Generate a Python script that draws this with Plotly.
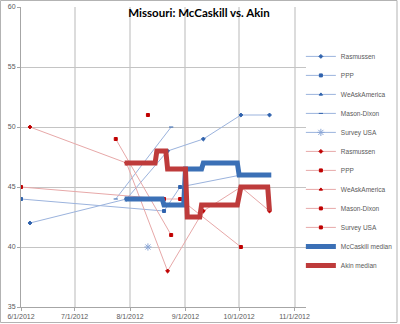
import plotly.graph_objects as go

# Poll results by pollster (McCaskill / Akin)
ras_dates = ["2012-06-06", "2012-07-30", "2012-08-22", "2012-09-11", "2012-10-02", "2012-10-18"]
ras_mccaskill = [42, 44, 48, 49, 51, 51]
ras_akin = [50, 47, 38, 43, 45, 43]

ppp_dates = ["2012-06-01", "2012-08-20", "2012-08-29", "2012-10-02"]
ppp_mccaskill = [44, 43, 45, 46]
ppp_akin = [45, 44, 44, 40]

# No WeAskAmerica results fall inside the plotted window
waa_dates = [None]
waa_mccaskill = [None]
waa_akin = [None]

md_dates = ["2012-07-24", "2012-08-24"]
md_mccaskill = [44, 50]
md_akin = [49, 41]

susa_dates = ["2012-08-11"]
susa_mccaskill = [40]
susa_akin = [51]

# Running medians
mc_med_dates = ["2012-07-29", "2012-08-19", "2012-08-20", "2012-08-31", "2012-09-01",
                "2012-09-10", "2012-09-11", "2012-09-30", "2012-10-01", "2012-10-19"]
mc_med = [44, 44, 43.5, 43.5, 46.5, 46.5, 47, 47, 46, 46]

ak_med_dates = ["2012-07-29", "2012-08-15", "2012-08-16", "2012-08-21", "2012-08-22",
                "2012-09-01", "2012-09-02", "2012-09-09", "2012-09-10", "2012-09-30",
                "2012-10-02", "2012-10-17", "2012-10-18"]
ak_med = [47, 47, 48, 48, 46.5, 46.5, 42.5, 42.5, 43.5, 43.5, 45, 45, 43]

x_ticks = ["2012-06-01", "2012-07-01", "2012-08-01", "2012-09-01", "2012-10-01", "2012-11-01"]
x_tick_text = ["6/1/2012", "7/1/2012", "8/1/2012", "9/1/2012", "10/1/2012", "11/1/2012"]
y_ticks = [35, 40, 45, 50, 55, 60]

BLUE_LINE = "#9bb3dd"
BLUE_MARK = "#2f62ad"
RED_LINE = "#e7a8a8"
RED_MARK = "#c00000"

fig = go.Figure()


def poll(name, x, y, line_color, mark_color, symbol, size=4):
    fig.add_trace(go.Scatter(
        x=x, y=y, name=name, mode="lines+markers",
        line=dict(color=line_color, width=1),
        marker=dict(symbol=symbol, size=size, color=mark_color,
                    line=dict(color=mark_color, width=1)),
    ))


poll("Rasmussen", ras_dates, ras_mccaskill, BLUE_LINE, BLUE_MARK, "diamond", 3)
poll("PPP", ppp_dates, ppp_mccaskill, BLUE_LINE, BLUE_MARK, "square", 3)
poll("WeAskAmerica", waa_dates, waa_mccaskill, BLUE_LINE, BLUE_MARK, "triangle-up", 3)
poll("Mason-Dixon", md_dates, md_mccaskill, BLUE_LINE, BLUE_MARK, "line-ew", 3)
poll("Survey USA", susa_dates, susa_mccaskill, BLUE_LINE, "#8aa6d6", "asterisk-open", 6)
poll("Rasmussen", ras_dates, ras_akin, RED_LINE, RED_MARK, "diamond", 3)
poll("PPP", ppp_dates, ppp_akin, RED_LINE, RED_MARK, "square", 3)
poll("WeAskAmerica", waa_dates, waa_akin, RED_LINE, RED_MARK, "triangle-up", 3)
poll("Mason-Dixon", md_dates, md_akin, RED_LINE, RED_MARK, "square", 3)
poll("Survey USA", susa_dates, susa_akin, RED_LINE, RED_MARK, "square", 3)

fig.add_trace(go.Scatter(x=mc_med_dates, y=mc_med, name="McCaskill median", mode="lines",
                         line=dict(color="#3b70b6", width=5)))
fig.add_trace(go.Scatter(x=ak_med_dates, y=ak_med, name="Akin median", mode="lines",
                         line=dict(color="#be3b3b", width=5)))

tick_font = dict(family="Liberation Sans", size=7, color="#595959")

fig.update_layout(
    width=400, height=324,
    margin=dict(l=21, r=94, t=7, b=17, autoexpand=False),
    paper_bgcolor="white", plot_bgcolor="white",
    showlegend=True,
    title=dict(text="<b>Missouri: McCaskill vs. Akin</b>",
               font=dict(family="Lato", size=11.5, color="black"),
               x=(199 - 21) / 285, xref="paper", xanchor="center",
               y=1 - 13 / 324, yref="container", yanchor="middle"),
    legend=dict(x=0.982, xanchor="left", y=0.487, yanchor="middle",
                font=dict(family="Liberation Sans", size=6.5, color="#595959"),
                bgcolor="rgba(0,0,0,0)", itemwidth=30, tracegroupgap=0),
    xaxis=dict(type="date", range=["2012-06-01", "2012-11-07 10:00"],
               tickvals=x_ticks, ticktext=x_tick_text, tickangle=0,
               tickfont=tick_font, showgrid=True, gridcolor="#dcdcdc", gridwidth=1.5,
               showline=True, linecolor="#a6a6a6", linewidth=1,
               ticks="outside", ticklen=3, tickcolor="#a6a6a6", zeroline=False),
    yaxis=dict(range=[35, 60], tickvals=y_ticks, tickfont=tick_font,
               showgrid=True, gridcolor="#c4c4c4", gridwidth=1,
               showline=True, linecolor="#a6a6a6", linewidth=1,
               ticks="outside", ticklen=3, tickcolor="#a6a6a6", zeroline=False),
    shapes=[dict(type="rect", xref="paper", yref="paper",
                 x0=(0.5 - 21) / 285, x1=(397 - 21) / 285,
                 y0=(307 - 322.5) / 300, y1=(307 - 0.5) / 300,
                 line=dict(color="#b3b3b3", width=1), fillcolor="rgba(0,0,0,0)",
                 layer="below")],
)

fig.write_html("out.html")
